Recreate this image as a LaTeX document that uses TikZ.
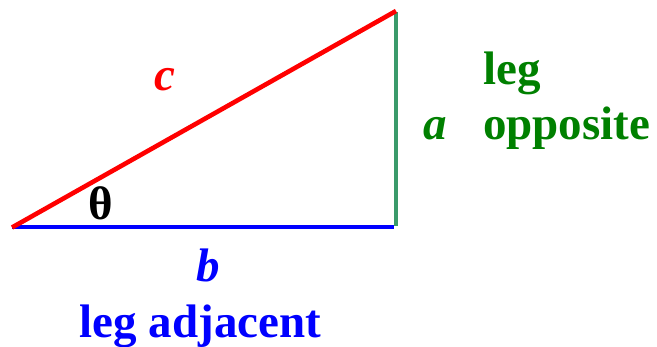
\documentclass[tikz,border=0pt]{standalone}
\usepackage{fontspec}
\setmainfont{Liberation Serif}
\definecolor{hypred}{RGB}{255,0,0}
\definecolor{adjblue}{RGB}{0,0,255}
\definecolor{oppline}{RGB}{58,154,106}
\definecolor{opptext}{RGB}{0,128,0}
\begin{document}
\begin{tikzpicture}[x=1pt,y=-1pt,
  lbl/.style={inner sep=0pt,font=\fontsize{47}{56}\selectfont\bfseries},
  ilbl/.style={lbl,font=\fontsize{47}{56}\selectfont\bfseries\itshape}]
\useasboundingbox (0,0) rectangle (657,347);
\coordinate (A) at (12,227);
\coordinate (B) at (396,227);
\coordinate (C) at (396,12);
\draw[oppline,line width=3.6pt] ([yshift=1pt]B) -- (C);
\draw[adjblue,line width=4.6pt] (A) -- ([xshift=-1.8pt]B);
\draw[hypred,line width=4.6pt] ([yshift=-0.5pt]A) -- ([yshift=1pt]C);
\node[ilbl,text=hypred,anchor=base] (c) at (165,91) {c};
\node[lbl,text=black,anchor=base] (th) at (101,220) {θ};
\node[ilbl,text=adjblue,anchor=base] (b) at (208,282) {b};
\node[lbl,text=adjblue,anchor=base] (adj) at (200.5,338) {leg adjacent};
\node[ilbl,text=opptext,anchor=base west] (a) at (423,140) {a};
\node[lbl,text=opptext,anchor=base west] (leg) at (483,85) {leg};
\node[lbl,text=opptext,anchor=base west] (opp) at (483,140) {opposite};
\end{tikzpicture}
\end{document}
